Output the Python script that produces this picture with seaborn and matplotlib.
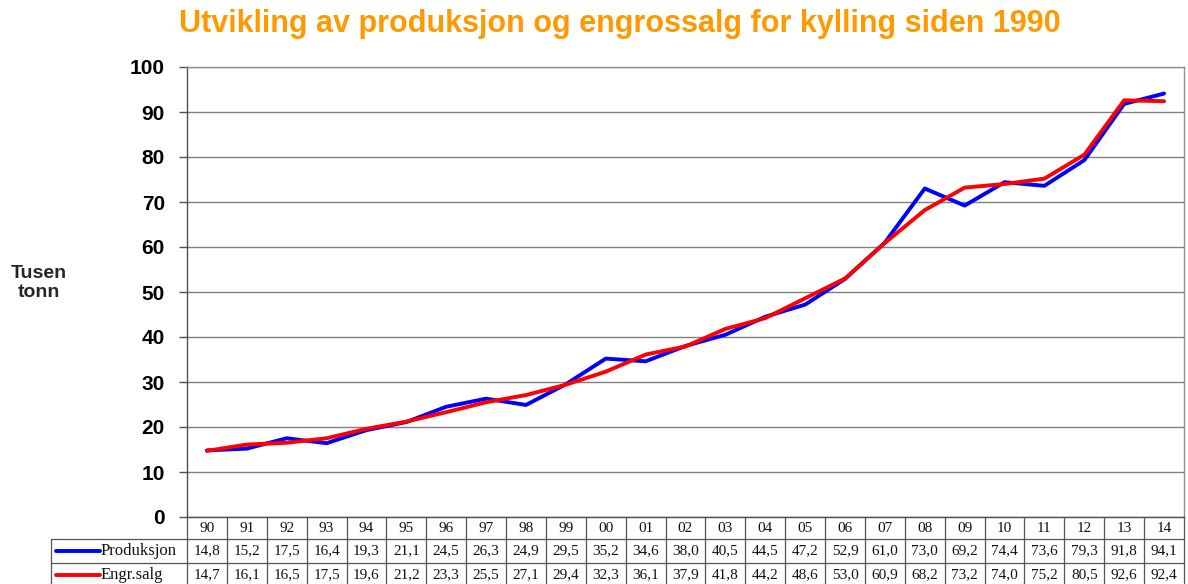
import pandas as pd
import matplotlib.pyplot as plt
import seaborn as sns

# Data: tusen tonn kylling, 1990-2014
years = ['90', '91', '92', '93', '94', '95', '96', '97', '98', '99', '00', '01', '02',
         '03', '04', '05', '06', '07', '08', '09', '10', '11', '12', '13', '14']
produksjon = [14.8, 15.2, 17.5, 16.4, 19.3, 21.1, 24.5, 26.3, 24.9, 29.5, 35.2, 34.6, 38.0,
              40.5, 44.5, 47.2, 52.9, 61.0, 73.0, 69.2, 74.4, 73.6, 79.3, 91.8, 94.1]
engrossalg = [14.7, 16.1, 16.5, 17.5, 19.6, 21.2, 23.3, 25.5, 27.1, 29.4, 32.3, 36.1, 37.9,
              41.8, 44.2, 48.6, 53.0, 60.9, 68.2, 73.2, 74.0, 75.2, 80.5, 92.6, 92.4]
series_names = ['Produksjon', 'Engr.salg']
colors = {'Produksjon': '#0000ff', 'Engr.salg': '#ff0000'}

sns.set_theme(style='white')
plt.rcParams['font.family'] = ['Liberation Sans', 'DejaVu Sans']

df = pd.DataFrame({
    'pos': list(range(len(years))) * 2,
    'verdi': produksjon + engrossalg,
    'serie': [series_names[0]] * len(years) + [series_names[1]] * len(years),
})

fig = plt.figure(figsize=(11.88, 5.84), dpi=100)
ax = fig.add_axes([187 / 1188, 67 / 584, 997 / 1188, 450 / 584])

sns.lineplot(data=df, x='pos', y='verdi', hue='serie', palette=colors,
             linewidth=2.8, legend=False, ax=ax, zorder=3)

ax.set_xlim(-0.5, len(years) - 0.5)
ax.set_ylim(0, 100)
ax.set_yticks(range(0, 101, 10))
ax.set_yticklabels([str(v) for v in range(0, 101, 10)], fontsize=15, fontweight='bold',
                   color='black')
ax.set_xticks([])
ax.set_xlabel('')
ax.set_ylabel('')
ax.grid(axis='y', color='#808080', linewidth=1)
ax.tick_params(axis='y', direction='out', length=6, width=1, color='#505050', pad=10, left=True)
for side in ['left', 'bottom']:
    ax.spines[side].set_color('#505050')
    ax.spines[side].set_linewidth(1)
for side in ['top', 'right']:
    ax.spines[side].set_color('#909090')
    ax.spines[side].set_linewidth(1)

# data table below the plot
tr = ax.get_xaxis_transform()
row_edges = [0, -22 / 450, -46 / 450, -70 / 450]
cell_font = dict(family=['Liberation Serif', 'DejaVu Serif'], fontsize=11, color='#111111')
line_kw = dict(color='#555555', linewidth=0.9, clip_on=False)
label_left = (51 - 187) / 997

n = len(years)
for i in range(n + 1):
    ax.plot([i - 0.5, i - 0.5], [row_edges[0], row_edges[3]], transform=tr, **line_kw)
for y in row_edges[1:3]:
    ax.plot([label_left, 1], [y, y], transform=ax.transAxes, **line_kw)
ax.plot([label_left, label_left], [row_edges[1], row_edges[3]], transform=ax.transAxes, **line_kw)

for i, yr in enumerate(years):
    ax.text(i, (row_edges[0] + row_edges[1]) / 2, yr, transform=tr,
            ha='center', va='center', **cell_font)
for r, (name, vals) in enumerate(zip(series_names, [produksjon, engrossalg])):
    yc = (row_edges[r + 1] + row_edges[r + 2]) / 2
    for i, v in enumerate(vals):
        ax.text(i, yc, f'{v:.1f}'.replace('.', ','), transform=tr,
                ha='center', va='center', **cell_font)
    ax.plot([(56 - 187) / 997, (100 - 187) / 997], [yc, yc], transform=ax.transAxes,
            color=colors[name], linewidth=2.8, clip_on=False)
    ax.text((101 - 187) / 997, yc, name, transform=ax.transAxes, ha='left', va='center',
            family=['Liberation Serif', 'DejaVu Serif'], fontsize=12, color='#111111')

fig.text(620 / 1188, 1 - 24 / 584, 'Utvikling av produksjon og engrossalg for kylling siden 1990',
         ha='center', va='center', fontsize=22, fontweight='bold', color='#ff9900')
fig.text(39 / 1188, 1 - 283 / 584, 'Tusen\ntonn', ha='center', va='center',
         fontsize=14, fontweight='bold', linespacing=1.15)

fig.savefig('out.png', dpi=100)
